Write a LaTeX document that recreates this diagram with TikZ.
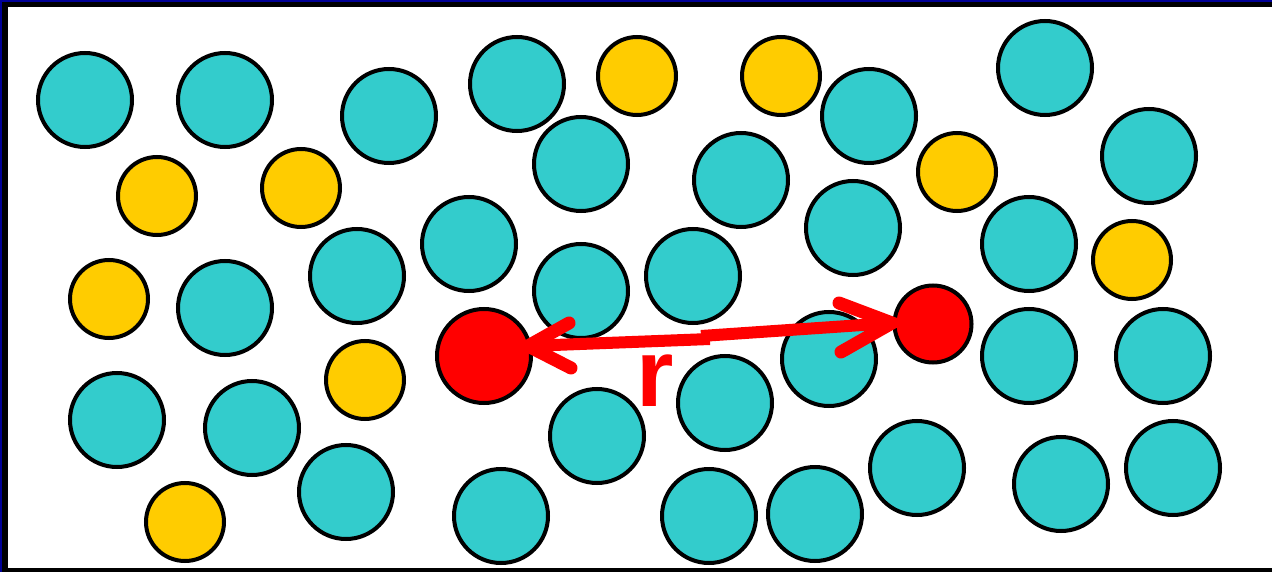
\documentclass[tikz,border=0pt]{standalone}
\usepackage{fontspec}
\newfontfamily\labelfont{Liberation Sans}
\definecolor{teal}{HTML}{33CCCC}
\definecolor{gold}{HTML}{FFCC00}
\definecolor{hot}{HTML}{FF0000}
\definecolor{navyedge}{RGB}{0,0,150}
\begin{document}
\begin{tikzpicture}[x=1pt,y=-1pt,
  ball/.style={circle,draw=black,line width=4pt,inner sep=0pt},
  big/.style={ball,fill=teal,minimum size=94pt},
  small/.style={ball,fill=gold,minimum size=78pt},
  redbig/.style={ball,fill=hot,minimum size=94pt},
  redsmall/.style={ball,fill=hot,minimum size=77pt},
  shaft/.style={draw=hot,line width=12pt,line cap=butt},
  barb/.style={draw=hot,line width=13pt,line cap=round,line join=miter},
]
\useasboundingbox (0,0) rectangle (1272,572);
\fill[white] (0,0) rectangle (1272,572);

% large particles
\foreach \x/\y [count=\i] in {
  85/100, 225/100, 389/116, 517/84, 581/164, 741/180, 869/116, 1045/68,
  1149/156, 469/244, 357/276, 581/291, 693/276, 853/228, 1029/244,
  225/308, 829/359, 1029/356, 1163/356, 117/420, 252/428, 597/436,
  725/403, 346/492, 501/516, 709/516, 815/514, 917/468, 1061/484, 1173/468}
  \node[big] (b\i) at (\x,\y) {};

% small particles
\foreach \x/\y [count=\i] in {
  637/76, 781/76, 157/196, 301/188, 957/172, 109/299, 1132/260, 365/380, 185/522}
  \node[small] (s\i) at (\x,\y) {};

% the two marked particles
\node[redbig] (redL) at (484,356) {};
\node[redsmall] (redR) at (933,324) {};

% distance arrow between them
\coordinate (tipL) at (528,346);
\coordinate (midL) at (710,339);
\coordinate (midR) at (701,336);
\coordinate (tipR) at (892,323);
\coordinate (armLup) at (569,323);
\coordinate (armLdn) at (571,368);
\coordinate (armRup) at (839,303);
\coordinate (armRdn) at (841,352);
\path[shaft] (tipL) -- (midL);
\path[shaft] (midR) -- (tipR);
\path[barb] (armLup) -- (tipL) -- (armLdn);
\path[barb] (armRup) -- (tipR) -- (armRdn);
\node[anchor=base,inner sep=0pt,text=hot,font=\labelfont\bfseries\fontsize{96}{96}\selectfont] (rlab) at (655,406) {r};

% frame
\fill[navyedge] (0,0) rectangle (1272,2);
\fill[navyedge] (0,0) rectangle (2,572);
\fill[black] (2,2) rectangle (1272,7);
\fill[black] (2,2) rectangle (8,572);
\fill[black] (2,568) rectangle (1272,572);
\end{tikzpicture}
\end{document}
